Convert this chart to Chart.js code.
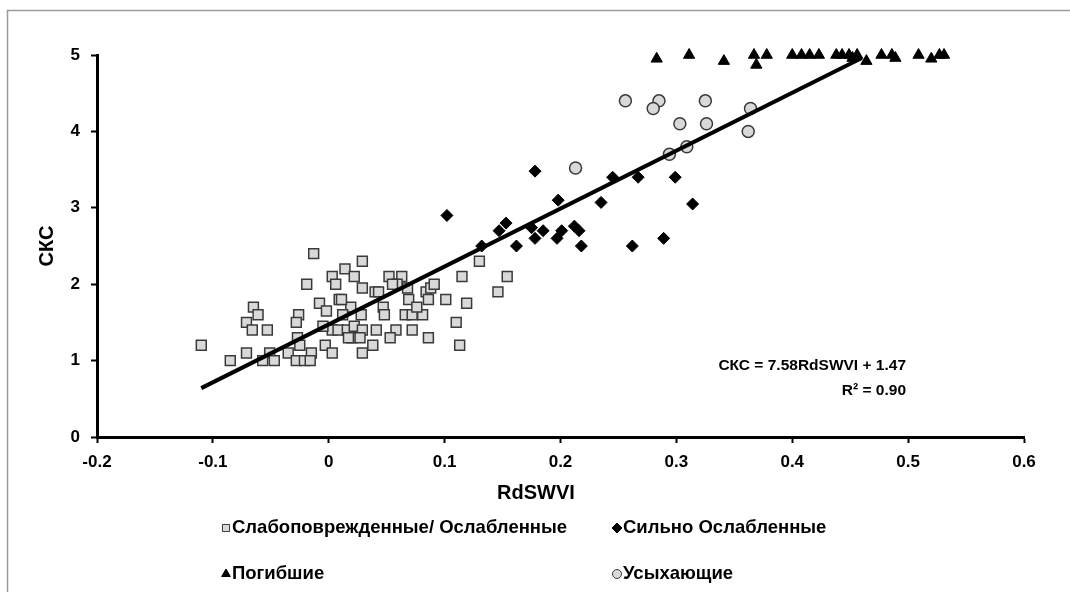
<!DOCTYPE html>
<html>
<head>
<meta charset="utf-8">
<script src="https://cdn.jsdelivr.net/npm/chart.js@4/dist/chart.umd.min.js"></script>
<style>
  html, body { margin: 0; padding: 0; background: #fff; }
  #wrap { width: 1070px; height: 592px; position: relative; }
</style>
</head>
<body>
<div id="wrap"><canvas id="chart"></canvas></div>
<script>
// Слабоповрежденные/ Ослабленные
const weakX = [-0.110, -0.085, -0.065, -0.061, -0.071, -0.066, -0.053, -0.071, -0.051, -0.057, -0.047,
  -0.019, -0.013, 0.003, 0.006, 0.014, 0.022, -0.026, -0.028, -0.008, 0.009, -0.002, 0.019,
  -0.027, -0.025, -0.035, -0.028, -0.021, -0.015, -0.016, -0.003, 0.003, 0.003, 0.008, 0.016, 0.020, 0.022,
  0.029, 0.029, 0.040, 0.043, 0.052, 0.063, 0.059, 0.055, 0.068, 0.069, 0.084, 0.088, 0.091, 0.086,
  0.101, 0.115, 0.119, 0.130, 0.146, 0.154, 0.110, 0.113, 0.086, 0.072, 0.058, 0.053, 0.041, 0.038,
  0.029, 0.066, 0.072, 0.081, 0.076, 0.047, 0.048, 0.028, 0.011, 0.029, 0.017, 0.027, 0.012, -0.005];
const weakY = [1.2, 1.0, 1.7, 1.6, 1.5, 1.4, 1.4, 1.1, 1.1, 1.0, 1.0,
  2.0, 2.4, 2.1, 2.0, 2.2, 2.1, 1.6, 1.5, 1.75, 1.8, 1.65, 1.7,
  1.3, 1.2, 1.1, 1.0, 1.0, 1.1, 1.0, 1.2, 1.1, 1.4, 1.4, 1.4, 1.3, 1.45,
  2.3, 1.95, 1.9, 1.9, 2.1, 2.1, 2.0, 2.0, 1.95, 1.8, 1.9, 1.95, 2.0, 1.8,
  1.8, 2.1, 1.75, 2.3, 1.9, 2.1, 1.5, 1.2, 1.3, 1.4, 1.4, 1.3, 1.4, 1.2,
  1.1, 1.6, 1.6, 1.6, 1.7, 1.7, 1.6, 1.6, 1.8, 1.4, 1.3, 1.3, 1.6, 1.45];

// Сильно Ослабленные
const strongX = [0.102, 0.178, 0.132, 0.153, 0.147, 0.162, 0.175, 0.178, 0.185, 0.198, 0.201,
  0.197, 0.212, 0.216, 0.218, 0.235, 0.245, 0.267, 0.262, 0.299, 0.289, 0.314];
const strongY = [2.9, 3.48, 2.5, 2.8, 2.7, 2.5, 2.74, 2.6, 2.7, 3.1, 2.7,
  2.6, 2.76, 2.7, 2.5, 3.07, 3.4, 3.4, 2.5, 3.4, 2.6, 3.05];

// Погибшие
const deadX = [0.283, 0.311, 0.341, 0.367, 0.369, 0.378, 0.400, 0.408, 0.415, 0.423, 0.438, 0.443,
  0.449, 0.456, 0.452, 0.464, 0.477, 0.486, 0.489, 0.509, 0.520, 0.527, 0.531];
const deadY = [4.95, 5.0, 4.92, 5.0, 4.87, 5.0, 5.0, 5.0, 5.0, 5.0, 5.0, 5.0,
  5.0, 5.0, 4.96, 4.92, 5.0, 5.0, 4.96, 5.0, 4.95, 5.0, 5.0];

// Усыхающие
const dryX = [0.213, 0.256, 0.285, 0.280, 0.325, 0.303, 0.326, 0.364, 0.362, 0.294, 0.309];
const dryY = [3.52, 4.4, 4.4, 4.3, 4.4, 4.1, 4.1, 4.3, 4.0, 3.7, 3.8];

// trend line end points
const trendX = [-0.11, 0.46];
const trendY = [0.64, 4.96];

const xTickLabels = ['-0.2', '-0.1', '0', '0.1', '0.2', '0.3', '0.4', '0.5', '0.6'];
const yTickLabels = ['0', '1', '2', '3', '4', '5'];
const equationLines = ['СКС = 7.58RdSWVI + 1.47', 'R² = 0.90'];
const xTitle = 'RdSWVI';

const FONT = 'Arial, "Liberation Sans", sans-serif';

function pts(xs, ys) {
  return xs.map((x, i) => ({x: x, y: ys[i]}));
}

const legendPlugin = {
  id: 'sideLegend',
  afterDraw(chart) {
    const ctx = chart.ctx;
    ctx.save();
    // outer frame
    ctx.strokeStyle = '#9a9a9a';
    ctx.lineWidth = 1.5;
    ctx.strokeRect(7.5, 10.5, 1100, 620);

    ctx.fillStyle = '#000';
    ctx.textBaseline = 'middle';

    // x axis title, sits a bit left of centre like the original
    ctx.font = 'bold 20px ' + FONT;
    ctx.textAlign = 'center';
    ctx.fillText(xTitle, 536, 493);

    // equation
    ctx.font = 'bold 15.5px ' + FONT;
    ctx.textAlign = 'right';
    ctx.fillText(equationLines[0], 906, 366);
    ctx.fillText(equationLines[1], 906, 391);

    // legend, two columns
    const spots = [[226, 528], [617, 528], [226, 574], [617, 574]];
    const order = [1, 2, 3, 4];
    ctx.font = 'bold 18.5px ' + FONT;
    ctx.textAlign = 'left';
    order.forEach((di, k) => {
      const ds = chart.data.datasets[di];
      const [x, y] = spots[k];
      ctx.fillStyle = ds.backgroundColor;
      ctx.strokeStyle = ds.borderColor;
      ctx.lineWidth = 1;
      Chart.helpers.drawPoint(ctx, {pointStyle: ds.pointStyle, radius: ds.legendRadius, borderWidth: 1}, x, y);
      ctx.fillStyle = '#000';
      ctx.fillText(ds.label, x + 6, y);
    });
    ctx.restore();
  }
};

new Chart(document.getElementById('chart'), {
  type: 'scatter',
  data: {
    datasets: [
      {
        type: 'line',
        label: 'trend',
        data: pts(trendX, trendY),
        borderColor: '#000',
        borderWidth: 4,
        pointRadius: 0,
        order: 0
      },
      {
        label: 'Слабоповрежденные/ Ослабленные',
        data: pts(weakX, weakY),
        pointStyle: 'rect',
        pointRadius: 7,
        legendRadius: 5,
        backgroundColor: '#d9d9d9',
        borderColor: '#3a3a3a',
        borderWidth: 1.5,
        order: 4
      },
      {
        label: 'Сильно Ослабленные',
        data: pts(strongX, strongY),
        pointStyle: 'rectRot',
        pointRadius: 6,
        legendRadius: 5,
        backgroundColor: '#000',
        borderColor: '#000',
        borderWidth: 1,
        order: 3
      },
      {
        label: 'Погибшие',
        data: pts(deadX, deadY),
        pointStyle: 'triangle',
        pointRadius: 6.5,
        legendRadius: 5,
        backgroundColor: '#000',
        borderColor: '#000',
        borderWidth: 1,
        order: 2,
        clip: false
      },
      {
        label: 'Усыхающие',
        data: pts(dryX, dryY),
        pointStyle: 'circle',
        pointRadius: 6,
        legendRadius: 4.5,
        backgroundColor: '#d9d9d9',
        borderColor: '#3a3a3a',
        borderWidth: 1.5,
        order: 1
      }
    ]
  },
  options: {
    responsive: true,
    maintainAspectRatio: false,
    animation: false,
    layout: {padding: {left: 0, right: 46, top: 55, bottom: 0}},
    plugins: {
      legend: {display: false},
      tooltip: {enabled: false}
    },
    scales: {
      x: {
        type: 'linear',
        min: -0.2,
        max: 0.6,
        afterFit: (s) => { s.height = 155; },
        ticks: {
          stepSize: 0.1,
          padding: 9,
          color: '#000',
          font: {family: FONT, size: 17, weight: 'bold'},
          callback: (v, i) => xTickLabels[i]
        },
        grid: {drawOnChartArea: false, drawTicks: true, tickLength: 6, tickWidth: 2, color: '#000'},
        border: {display: true, color: '#000', width: 3},
        title: {display: false}
      },
      y: {
        min: 0,
        max: 5,
        afterFit: (s) => { s.width = 97; },
        ticks: {
          stepSize: 1,
          padding: 11,
          color: '#000',
          font: {family: FONT, size: 17, weight: 'bold'},
          callback: (v, i) => yTickLabels[i]
        },
        grid: {drawOnChartArea: false, drawTicks: true, tickLength: 6, tickWidth: 2, color: '#000'},
        border: {display: true, color: '#000', width: 3},
        title: {
          display: true,
          text: 'СКС',
          color: '#000',
          font: {family: FONT, size: 20, weight: 'bold'},
          padding: {top: 35, bottom: 0}
        }
      }
    }
  },
  plugins: [legendPlugin]
});
</script>
</body>
</html>
